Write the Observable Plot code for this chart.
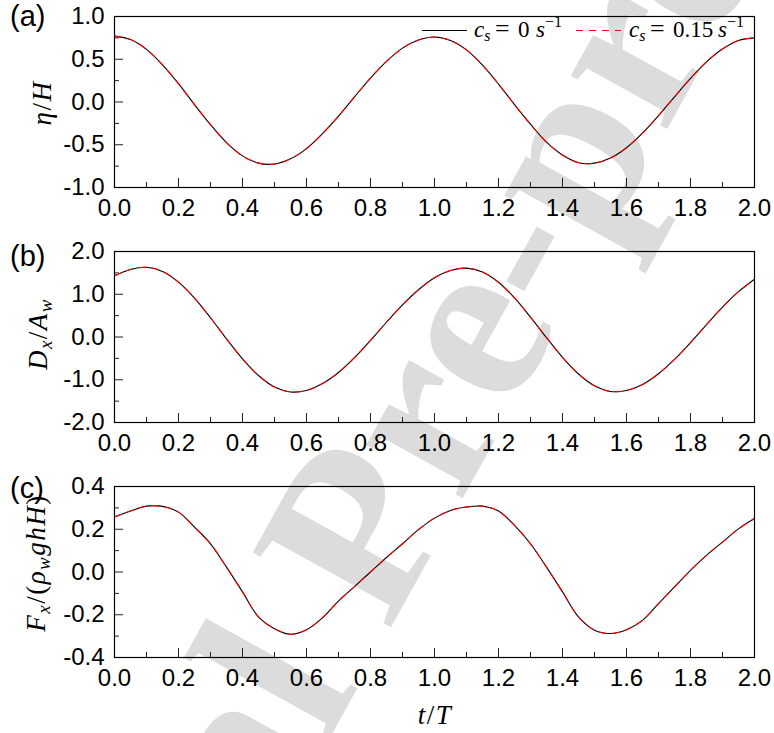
<!DOCTYPE html>
<html><head><meta charset="utf-8">
<script src="https://cdn.jsdelivr.net/npm/d3@7"></script>
<script src="https://cdn.jsdelivr.net/npm/@observablehq/plot@0.6"></script>
<style>
body{margin:0;background:#fff;}
#wrap{position:relative;width:774px;height:733px;overflow:hidden;background:#fff;}
#wrap > svg{position:absolute;left:0;}
</style></head><body><div id="wrap"></div>
<script>
// ---- data ----
const tVals = [0,0.05,0.1,0.15,0.2,0.25,0.3,0.35,0.4,0.45,0.5,0.55,0.6,0.65,0.7,0.75,0.8,0.85,0.9,0.95,1.0,
  1.05,1.1,1.15,1.2,1.25,1.3,1.35,1.4,1.45,1.5,1.55,1.6,1.65,1.7,1.75,1.8,1.85,1.9,1.95,2.0];
const etaCs0 = [0.77,0.73,0.615,0.435,0.215,-0.03,-0.265,-0.475,-0.63,-0.715,-0.725,-0.665,-0.545,-0.37,-0.165,0.06,0.28,0.475,0.63,0.725,0.76,
  0.72,0.61,0.43,0.21,-0.03,-0.26,-0.47,-0.62,-0.71,-0.715,-0.655,-0.535,-0.365,-0.16,0.06,0.275,0.47,0.62,0.72,0.75];
const etaCs015 = [0.77,0.73,0.615,0.435,0.215,-0.03,-0.265,-0.475,-0.63,-0.715,-0.725,-0.665,-0.545,-0.37,-0.165,0.06,0.28,0.475,0.63,0.725,0.76,
  0.72,0.61,0.43,0.21,-0.03,-0.26,-0.47,-0.62,-0.71,-0.715,-0.655,-0.535,-0.365,-0.16,0.06,0.275,0.47,0.62,0.72,0.75];
const dxCs0 = [1.43,1.58,1.63,1.535,1.285,0.91,0.45,-0.045,-0.51,-0.9,-1.17,-1.285,-1.25,-1.09,-0.83,-0.485,-0.08,0.345,0.75,1.105,1.385,
  1.555,1.61,1.52,1.28,0.915,0.465,-0.015,-0.475,-0.865,-1.14,-1.275,-1.25,-1.11,-0.86,-0.525,-0.13,0.29,0.7,1.06,1.35];
const dxCs015 = [1.43,1.58,1.63,1.535,1.285,0.91,0.45,-0.045,-0.51,-0.9,-1.17,-1.285,-1.25,-1.09,-0.83,-0.485,-0.08,0.345,0.75,1.105,1.385,
  1.555,1.61,1.52,1.28,0.915,0.465,-0.015,-0.475,-0.865,-1.14,-1.275,-1.25,-1.11,-0.86,-0.525,-0.13,0.29,0.7,1.06,1.35];
const fxCs0 = [0.257,0.285,0.308,0.307,0.28,0.21,0.132,0.023,-0.093,-0.21,-0.265,-0.291,-0.27,-0.214,-0.136,-0.068,0.0,0.068,0.132,0.198,0.252,
  0.288,0.304,0.308,0.285,0.218,0.132,0.023,-0.093,-0.21,-0.272,-0.288,-0.27,-0.226,-0.148,-0.07,0.008,0.078,0.14,0.202,0.25];
const fxCs015 = [0.257,0.285,0.308,0.307,0.28,0.21,0.132,0.023,-0.093,-0.21,-0.265,-0.291,-0.27,-0.214,-0.136,-0.068,0.0,0.068,0.132,0.198,0.252,
  0.288,0.304,0.308,0.285,0.218,0.132,0.023,-0.093,-0.21,-0.272,-0.288,-0.27,-0.226,-0.148,-0.07,0.008,0.078,0.14,0.202,0.25];

const xMajor = [0,0.2,0.4,0.6,0.8,1.0,1.2,1.4,1.6,1.8,2.0];
const xMinor = [0.1,0.3,0.5,0.7,0.9,1.1,1.3,1.5,1.7,1.9];
const etaMajor = [-1,-0.5,0,0.5,1], etaMinor = [-0.75,-0.25,0.25,0.75];
const dxMajor = [-2,-1,0,1,2], dxMinor = [-1.5,-0.5,0.5,1.5];
const fxMajor = [-0.4,-0.2,0,0.2,0.4], fxMinor = [-0.3,-0.1,0.1,0.3];

// ---- layout ----
const W = 774, ML = 114, MR = 20, MT = 16, PH = 171, MB = 40, H = MT + PH + MB;
const PW = W - ML - MR;
const SANS = '"Liberation Sans", Arial, sans-serif';
const SERIF = '"Liberation Serif", "Times New Roman", serif';
const fmt = d => d.toFixed(1);

function panel(black, red, yDomain, yMajor, yMinor) {
  return Plot.plot({
    width: W, height: H, marginTop: MT, marginBottom: MB, marginLeft: ML, marginRight: MR,
    style: {fontFamily: SANS, fontSize: "24px", color: "#000", background: "transparent", overflow: "visible"},
    x: {domain: [0, 2]},
    y: {domain: yDomain},
    marks: [
      Plot.axisX(xMajor, {tickSize: 0, tickPadding: 11, tickFormat: fmt, label: null, fontSize: 24, fill: "#000"}),
      Plot.axisY(yMajor, {tickSize: 0, tickPadding: 10, tickFormat: fmt, label: null, fontSize: 24, fill: "#000"}),
      Plot.tickX(xMajor, {x: d => d, insetTop: PH - 9, stroke: "#222"}),
      Plot.tickX(xMinor, {x: d => d, insetTop: PH - 5, stroke: "#222"}),
      Plot.tickY(yMajor, {y: d => d, insetRight: PW - 9, stroke: "#222"}),
      Plot.tickY(yMinor, {y: d => d, insetRight: PW - 5, stroke: "#222"}),
      Plot.line(black, {x: tVals, y: black, stroke: "#000", strokeWidth: 1.1, curve: "catmull-rom"}),
      Plot.line(red, {x: tVals, y: red, stroke: "#ff0000", strokeWidth: 1.1, strokeDasharray: "7,6", curve: "catmull-rom"}),
      Plot.frame({stroke: "#000", strokeWidth: 1.2})
    ]
  });
}

const wrap = document.getElementById("wrap");
const NS = "http://www.w3.org/2000/svg";

// watermark (behind)
const wm = document.createElementNS(NS, "svg");
wm.setAttribute("width", W); wm.setAttribute("height", 733);
wm.style.top = "0px";
wm.innerHTML = `<text transform="translate(420,575) rotate(-61)" text-anchor="middle" font-family='${SERIF}' font-weight="bold" font-size="240" fill="#dcdcdc">Journal Pre-proof</text>`;
wrap.appendChild(wm);

const pa = panel(etaCs0, etaCs015, [-1, 1], etaMajor, etaMinor);
const pb = panel(dxCs0, dxCs015, [-2, 2], dxMajor, dxMinor);
const pc = panel(fxCs0, fxCs015, [-0.4, 0.4], fxMajor, fxMinor);
pa.style.top = "0px"; pb.style.top = "235px"; pc.style.top = "470px";
wrap.appendChild(pa); wrap.appendChild(pb); wrap.appendChild(pc);

// annotations
const ov = document.createElementNS(NS, "svg");
ov.setAttribute("width", W); ov.setAttribute("height", 733);
ov.style.top = "0px";
const it = 'font-style="italic"';
ov.innerHTML = `
<g font-family='${SANS}' font-size="29" fill="#000">
  <text x="10" y="26">(a)</text>
  <text x="10" y="265.5">(b)</text>
  <text x="10" y="497.5">(c)</text>
</g>
<g font-family='${SERIF}' font-size="27" fill="#000" letter-spacing="1.5">
  <text transform="translate(51,103) rotate(-90)" text-anchor="middle"><tspan ${it}>η</tspan>/<tspan ${it}>H</tspan></text>
  <text transform="translate(47,334) rotate(-90)" text-anchor="middle"><tspan ${it}>D</tspan><tspan ${it} font-size="19" dy="5">x</tspan><tspan dy="-5">/</tspan><tspan ${it}>A</tspan><tspan ${it} font-size="19" dy="5">w</tspan></text>
  <text transform="translate(45,563) rotate(-90)" text-anchor="middle"><tspan ${it}>F</tspan><tspan ${it} font-size="19" dy="5">x</tspan><tspan dy="-5">/(</tspan><tspan ${it}>ρ</tspan><tspan ${it} font-size="19" dy="5">w</tspan><tspan ${it} dy="-5">ghH</tspan>)</text>
  <text x="435" y="724" text-anchor="middle"><tspan ${it}>t</tspan>/<tspan ${it}>T</tspan></text>
</g>
<g font-family='${SERIF}' font-size="23" fill="#000">
  <line x1="422" x2="467" y1="30.5" y2="30.5" stroke="#000" stroke-width="1.1"/>
  <text y="36.5"><tspan x="474" ${it}>c</tspan><tspan ${it} font-size="16" dy="4">s</tspan><tspan x="495" dy="-4" font-size="26">=</tspan><tspan x="518">0</tspan><tspan x="536" ${it}>s</tspan><tspan font-size="16" dy="-10">−1</tspan></text>
  <line x1="576" x2="621" y1="30.5" y2="30.5" stroke="#ff0000" stroke-width="1.1" stroke-dasharray="7,6"/>
  <text y="36.5"><tspan x="629" ${it}>c</tspan><tspan ${it} font-size="16" dy="4">s</tspan><tspan x="650" dy="-4" font-size="26">=</tspan><tspan x="673">0.15</tspan><tspan x="718" ${it}>s</tspan><tspan font-size="16" dy="-10">−1</tspan></text>
</g>`;
wrap.appendChild(ov);
</script></body></html>
